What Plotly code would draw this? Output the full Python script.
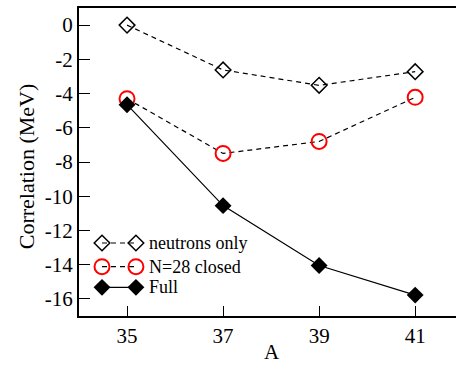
import plotly.graph_objects as go

A = [35, 37, 39, 41]
neutrons_only = [0.0, -2.62, -3.52, -2.72]
n28_closed = [-4.3, -7.5, -6.8, -4.22]
full = [-4.65, -10.55, -14.05, -15.78]

x_ticks = [35, 37, 39, 41]
y_ticks = [0, -2, -4, -6, -8, -10, -12, -14, -16]

legend_names = ["neutrons only", "N=28 closed", "Full"]

FONT = "Liberation Serif"

styles = [
    dict(line=dict(color="black", width=1.2, dash="5px,4px"),
         marker=dict(symbol="diamond-open", size=12, color="black", line=dict(width=1.5, color="black"))),
    dict(line=dict(color="black", width=1.2, dash="5px,4px"),
         marker=dict(symbol="circle-open", size=15, color="red", line=dict(width=2, color="red"))),
    dict(line=dict(color="black", width=1.2),
         marker=dict(symbol="diamond", size=13, color="black", line=dict(width=0))),
]

fig = go.Figure()
for ys, st, nm in zip([neutrons_only, n28_closed, full], styles, legend_names):
    fig.add_trace(go.Scatter(x=A, y=ys, mode="lines+markers", name=nm,
                             showlegend=False, cliponaxis=False, **st))

# manual legend (symbol - line - symbol) on an overlay axis in [0,1] units
leg_y = [0.237, 0.160, 0.093]
leg_x = [0.061, 0.151]
for yy, st, nm in zip(leg_y, styles, legend_names):
    fig.add_trace(go.Scatter(x=leg_x, y=[yy, yy], mode="lines+markers",
                             xaxis="x2", yaxis="y2", showlegend=False,
                             hoverinfo="skip", **st))
    fig.add_annotation(x=0.181, y=yy, xref="x2", yref="y2", text=nm,
                       showarrow=False, xanchor="left", yanchor="middle",
                       font=dict(family=FONT, size=18, color="black"))

# axis titles
fig.add_annotation(x=0.512, y=-0.118, xref="paper", yref="paper", text="A",
                   showarrow=False, xanchor="center", yanchor="middle",
                   font=dict(family=FONT, size=21, color="black"))
fig.add_annotation(x=-0.14, y=0.487, xref="paper", yref="paper", text="Correlation (MeV)",
                   textangle=-90, showarrow=False, xanchor="center", yanchor="middle",
                   font=dict(family=FONT, size=22, color="black"))

fig.update_layout(
    width=456, height=365,
    margin=dict(l=79, r=0, t=8, b=49, autoexpand=False),
    paper_bgcolor="white", plot_bgcolor="white",
    font=dict(family=FONT, size=20, color="black"),
    xaxis=dict(range=[34, 41.85], tickvals=x_ticks, ticktext=[str(v) for v in x_ticks],
               ticks="inside", ticklen=10, tickwidth=1.2, tickcolor="black",
               showline=True, linewidth=2, linecolor="black", mirror=True,
               showgrid=False, zeroline=False, automargin=False,
               tickfont=dict(family=FONT, size=21)),
    yaxis=dict(range=[-17, 1], tickvals=y_ticks, ticktext=[str(v) for v in y_ticks],
               ticks="inside", ticklen=11, tickwidth=1.2, tickcolor="black",
               showline=True, linewidth=2, linecolor="black",
               showgrid=False, zeroline=False, automargin=False,
               tickfont=dict(family=FONT, size=21)),
    xaxis2=dict(range=[0, 1], overlaying="x", visible=False, fixedrange=True),
    yaxis2=dict(range=[0, 1], overlaying="y", visible=False, fixedrange=True),
)

fig.write_html("out.html", config={"displayModeBar": False},
               post_script="document.body.style.margin='0px';document.body.style.padding='0px';")
